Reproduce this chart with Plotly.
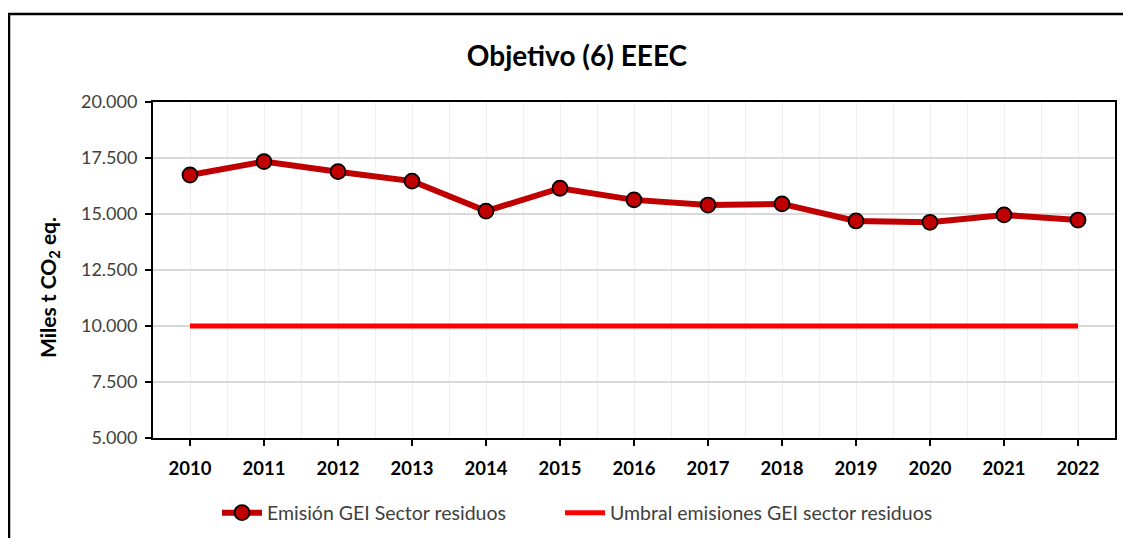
import plotly.graph_objects as go

years = [2010, 2011, 2012, 2013, 2014, 2015, 2016, 2017, 2018, 2019, 2020, 2021, 2022]
emision = [16740, 17340, 16890, 16470, 15130, 16150, 15630, 15400, 15450, 14690, 14630, 14960, 14730]
umbral = [10000] * len(years)
y_ticks = [5000, 7500, 10000, 12500, 15000, 17500, 20000]

name_emision = "Emisión GEI Sector residuos"
name_umbral = "Umbral emisiones GEI sector residuos"

fig = go.Figure()
fig.add_trace(go.Scatter(
    x=years, y=emision, name=name_emision, mode="lines+markers",
    line=dict(color="#C00000", width=6),
    marker=dict(symbol="circle", size=15, color="#C00000", line=dict(color="#000000", width=1.8)),
    legend="legend",
))
fig.add_trace(go.Scatter(
    x=years, y=umbral, name=name_umbral, mode="lines",
    line=dict(color="#FF0000", width=5),
    legend="legend2",
))

FONT = "Lato, Open Sans, sans-serif"
midpoints = [y - 0.5 for y in years] + [years[-1] + 0.5]

W, H = 1123, 530
PL, PR, PT, PB = 145, 1107, 94, 430

legend_font = dict(family=FONT, size=19.5, color="#404040")

fig.update_layout(
    width=W, height=H,
    margin=dict(l=PL, r=W - PR, t=PT, b=H - PB),
    paper_bgcolor="white", plot_bgcolor="white",
    separators=",.",
    font=dict(family=FONT, size=15, color="#404040"),
    title=dict(text="<b>Objetivo (6) EEEC</b>", x=569 / W, xanchor="center",
               y=1 - 48 / H, yanchor="middle", xref="container", yref="container",
               font=dict(family=FONT, size=28, color="#000000")),
    showlegend=True,
    legend=dict(orientation="h", x=209 / W, xanchor="left", xref="container",
                y=1 - 505 / H, yanchor="middle", yref="container",
                font=legend_font, itemwidth=40),
    legend2=dict(orientation="h", x=552 / W, xanchor="left", xref="container",
                 y=1 - 505 / H, yanchor="middle", yref="container",
                 font=legend_font, itemwidth=40),
    xaxis=dict(
        range=[years[0] - 0.5, years[-1] + 0.5],
        tickvals=years, ticktext=[str(y) for y in years],
        showgrid=True, gridcolor="#EFEFEF", gridwidth=1,
        minor=dict(tickvals=midpoints, showgrid=True, gridcolor="#EFEFEF", gridwidth=1),
        ticks="outside", ticklen=6, tickcolor="#000000", tickwidth=1.5,
        showline=True, linecolor="#000000", linewidth=2, mirror=True,
        tickfont=dict(family=FONT, size=18.5, color="#000000", weight="bold"),
        zeroline=False, ticklabelstandoff=7,
    ),
    yaxis=dict(
        range=[5000, 20000], tickvals=y_ticks, tickformat=",d",
        showgrid=True, gridcolor="#D9D9D9", gridwidth=1.5,
        ticks="outside", ticklen=6, tickcolor="#000000", tickwidth=1.5,
        showline=True, linecolor="#000000", linewidth=2, mirror=True,
        tickfont=dict(family=FONT, size=18, color="#404040"),
        zeroline=False, ticklabelstandoff=4,
    ),
    annotations=[dict(text="<b>Miles t CO<sub>2</sub> eq.</b>", textangle=-90,
                      xref="paper", yref="paper",
                      x=(41 - PL) / (PR - PL), y=(PB - 280) / (PB - PT),
                      xanchor="center", yanchor="middle", showarrow=False,
                      font=dict(family=FONT, size=21, color="#000000"))],
    shapes=[dict(type="rect", xref="paper", yref="paper",
                 x0=(1 - PL) / (PR - PL), x1=1.2, y0=-0.6, y1=(PB - 6) / (PB - PT),
                 line=dict(color="#000000", width=2.5), fillcolor="rgba(0,0,0,0)",
                 layer="below")],
)

fig.write_html("out.html")
